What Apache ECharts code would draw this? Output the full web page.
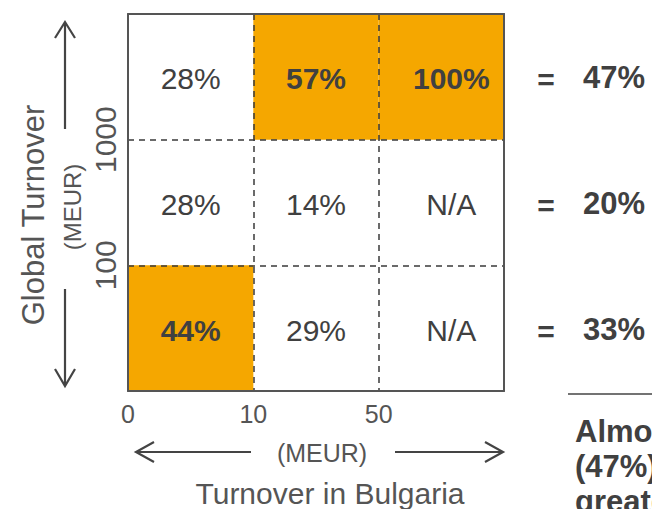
<!DOCTYPE html>
<html>
<head>
<meta charset="utf-8">
<script src="https://cdn.jsdelivr.net/npm/echarts@6/dist/echarts.min.js"></script>
<style>
html,body{margin:0;padding:0;background:#fff;}
#chart{width:652px;height:509px;}
</style>
</head>
<body>
<div id="chart"></div>
<script>
// ---- data ----
const xTickLabels = ['0', '10', '50', ''];          // Turnover in Bulgaria boundaries (MEUR)
const yTickLabels = ['', '100', '1000', ''];        // Global turnover boundaries (MEUR)
// cells by row, bottom row first; null = N/A
const rowBottom = [44, 29, null];
const rowMiddle = [28, 14, null];
const rowTop    = [28, 57, 100];
const highlighted = [[0, 0], [1, 2], [2, 2]];       // [col,row] cells in orange
const rowTotals = [33, 20, 47];                     // bottom to top
const noteLines = ['Almost half', '(47%) of', 'greater'];

const FONT = '"Liberation Sans", Arial, sans-serif';
const TXT = '#404040';
const ORANGE = '#F5A700';

const rows = [rowBottom, rowMiddle, rowTop];
const cellData = [];
rows.forEach((r, ri) => r.forEach((v, ci) => {
  const hl = highlighted.some(h => h[0] === ci && h[1] === ri) ? 1 : 0;
  cellData.push([ci, ri, v, hl]);
}));
const totalData = rowTotals.map((v, ri) => [3, ri, v]);

const chart = echarts.init(document.getElementById('chart'), null, {renderer: 'svg'});

const dashed = {show: true, showMinLine: false, showMaxLine: false,
  lineStyle: {color: '#3a3a3a', type: [6, 5], width: 1.5}};

chart.setOption({
  animation: false,
  textStyle: {fontFamily: FONT},
  grid: {left: 128, top: 14, width: 376, height: 377, show: false},
  xAxis: [{
    type: 'value', min: 0, max: 3, interval: 1, z: 5,
    axisLine: {show: true, onZero: false, lineStyle: {color: '#555', width: 2}},
    axisTick: {show: false},
    axisLabel: {margin: 10, fontSize: 25, color: '#555', fontFamily: FONT,
      formatter: v => xTickLabels[Math.round(v)] || ''},
    splitLine: dashed
  }, {
    type: 'value', min: 0, max: 3, position: 'top', z: 5,
    axisLine: {show: true, onZero: false, lineStyle: {color: '#555', width: 2}},
    axisTick: {show: false}, axisLabel: {show: false}, splitLine: {show: false}
  }],
  yAxis: [{
    type: 'value', min: 0, max: 3, interval: 1, z: 5,
    axisLine: {show: true, onZero: false, lineStyle: {color: '#555', width: 2}},
    axisTick: {show: false},
    axisLabel: {margin: 8, fontSize: 30, color: '#555', rotate: 90, fontFamily: FONT,
      formatter: v => yTickLabels[Math.round(v)] || ''},
    splitLine: dashed
  }, {
    type: 'value', min: 0, max: 3, position: 'right', z: 5,
    axisLine: {show: true, onZero: false, lineStyle: {color: '#555', width: 2}},
    axisTick: {show: false}, axisLabel: {show: false}, splitLine: {show: false}
  }],
  series: [{
    type: 'custom',
    z: 2,
    data: cellData,
    renderItem: function (params, api) {
      const c = api.value(0), r = api.value(1), v = api.value(2), hl = api.value(3);
      const p0 = api.coord([c, r + 1]);
      const p1 = api.coord([c + 1, r]);
      const label = (v == null || isNaN(v)) ? 'N/A' : v + '%';
      const shift = c === 2 ? 10 : 0;
      return {
        type: 'group',
        children: [{
          type: 'rect',
          shape: {x: p0[0], y: p0[1], width: p1[0] - p0[0], height: p1[1] - p0[1]},
          style: {fill: hl ? ORANGE : 'rgba(0,0,0,0)'}
        }, {
          type: 'text',
          style: {
            text: label, x: (p0[0] + p1[0]) / 2 + shift, y: (p0[1] + p1[1]) / 2 + 2,
            align: 'center', verticalAlign: 'middle',
            font: (hl ? 'bold ' : '') + '30px ' + FONT, fill: TXT
          }
        }]
      };
    }
  }, {
    type: 'custom',
    z: 2,
    clip: false,
    data: totalData,
    renderItem: function (params, api) {
      const p = api.coord([api.value(0), api.value(1) + 0.5]);
      return {
        type: 'group',
        children: [{
          type: 'text',
          style: {text: '=', x: p[0] + 42, y: p[1] + 3, align: 'center', verticalAlign: 'middle',
            font: 'bold 30px ' + FONT, fill: TXT}
        }, {
          type: 'text',
          style: {text: api.value(2) + '%', x: p[0] + 79, y: p[1] + 1, align: 'left', verticalAlign: 'middle',
            font: 'bold 31px ' + FONT, fill: TXT}
        }]
      };
    }
  }],
  graphic: [
    // vertical arrows
    {type: 'polyline', shape: {points: [[65, 129], [65, 23]]}, style: {stroke: '#444', lineWidth: 2.2, fill: null}},
    {type: 'polyline', shape: {points: [[55, 38], [65, 22], [75, 38]]}, style: {stroke: '#444', lineWidth: 2.2, fill: null}},
    {type: 'polyline', shape: {points: [[65, 289], [65, 385]]}, style: {stroke: '#444', lineWidth: 2.2, fill: null}},
    {type: 'polyline', shape: {points: [[55, 369], [65, 386], [75, 369]]}, style: {stroke: '#444', lineWidth: 2.2, fill: null}},
    // horizontal arrows
    {type: 'polyline', shape: {points: [[251, 452], [137, 452]]}, style: {stroke: '#444', lineWidth: 2.2, fill: null}},
    {type: 'polyline', shape: {points: [[154, 442], [136, 452], [154, 462]]}, style: {stroke: '#444', lineWidth: 2.2, fill: null}},
    {type: 'polyline', shape: {points: [[395, 452], [502, 452]]}, style: {stroke: '#444', lineWidth: 2.2, fill: null}},
    {type: 'polyline', shape: {points: [[485, 442], [503, 452], [485, 462]]}, style: {stroke: '#444', lineWidth: 2.2, fill: null}},
    // axis titles
    {type: 'text', x: 33, y: 215, rotation: Math.PI / 2,
      style: {text: 'Global Turnover', align: 'center', verticalAlign: 'middle', font: '31px ' + FONT, fill: '#555'}},
    {type: 'text', x: 72, y: 207, rotation: Math.PI / 2,
      style: {text: '(MEUR)', align: 'center', verticalAlign: 'middle', font: '24px ' + FONT, fill: '#555'}},
    {type: 'text', x: 322, y: 453,
      style: {text: '(MEUR)', align: 'center', verticalAlign: 'middle', font: '25px ' + FONT, fill: '#555'}},
    {type: 'text', x: 330, y: 493,
      style: {text: 'Turnover in Bulgaria', align: 'center', verticalAlign: 'middle', font: '30px ' + FONT, fill: '#555'}},
    // note (cut off at the right edge, as in the reference)
    {type: 'line', shape: {x1: 568, y1: 394, x2: 660, y2: 394}, style: {stroke: '#444', lineWidth: 1.5}},
    {type: 'text', x: 575, y: 431,
      style: {text: noteLines[0], align: 'left', verticalAlign: 'middle', font: 'bold 31px ' + FONT, fill: TXT}},
    {type: 'text', x: 575, y: 466,
      style: {text: noteLines[1], align: 'left', verticalAlign: 'middle', font: 'bold 31px ' + FONT, fill: TXT}},
    {type: 'text', x: 575, y: 501,
      style: {text: noteLines[2], align: 'left', verticalAlign: 'middle', font: 'bold 31px ' + FONT, fill: TXT}}
  ]
});
</script>
</body>
</html>
